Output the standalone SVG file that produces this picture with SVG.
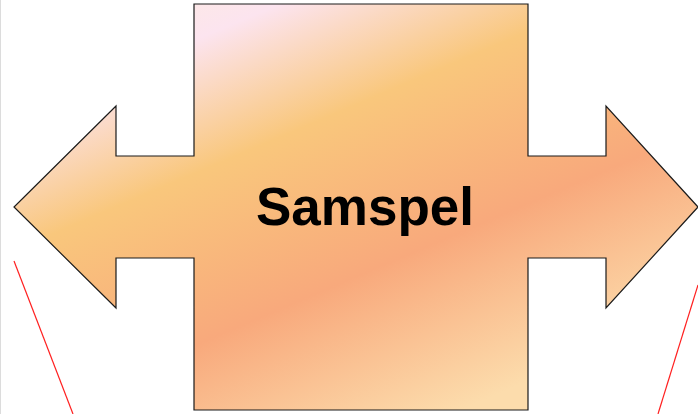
<svg xmlns="http://www.w3.org/2000/svg" width="698" height="414" viewBox="0 0 698 414">
  <style>
    .shape { stroke: #1a1a1a; stroke-width: 1.2; stroke-linejoin: miter; }
    .label { font-family: "Liberation Sans", Arial, sans-serif; font-weight: bold; font-size: 53px; fill: #000; text-anchor: middle; }
    .red { stroke: #ff2020; stroke-width: 1.2; fill: none; }
  </style>
  <defs>
    <linearGradient id="g" gradientUnits="userSpaceOnUse" x1="190" y1="-30" x2="390" y2="440">
      <stop offset="0" stop-color="#fdebe2"/>
      <stop offset="0.13" stop-color="#fce4ef"/>
      <stop offset="0.37" stop-color="#f9c77c"/>
      <stop offset="0.68" stop-color="#f8a97c"/>
      <stop offset="1" stop-color="#fcdcac"/>
    </linearGradient>
  </defs>
  <rect x="0" y="0" width="698" height="414" fill="#fff"/>
  <line x1="0.5" y1="0" x2="0.5" y2="414" stroke="#dcdcdc" stroke-width="1"/>
  <g id="connectors">
    <line class="red" x1="14" y1="261" x2="73" y2="414"/>
    <line class="red" x1="698" y1="285" x2="658" y2="414"/>
  </g>
  <g id="samspel">
    <path class="shape" fill="url(#g)" d="M194,4 L528,4 L528,156 L606,156 L606,106 L698,207 L606,308 L606,258 L528,258 L528,410 L194,410 L194,258 L116,258 L116,308 L14,207 L116,106 L116,156 L194,156 Z"/>
    <text class="label" x="365" y="225">Samspel</text>
  </g>
</svg>
